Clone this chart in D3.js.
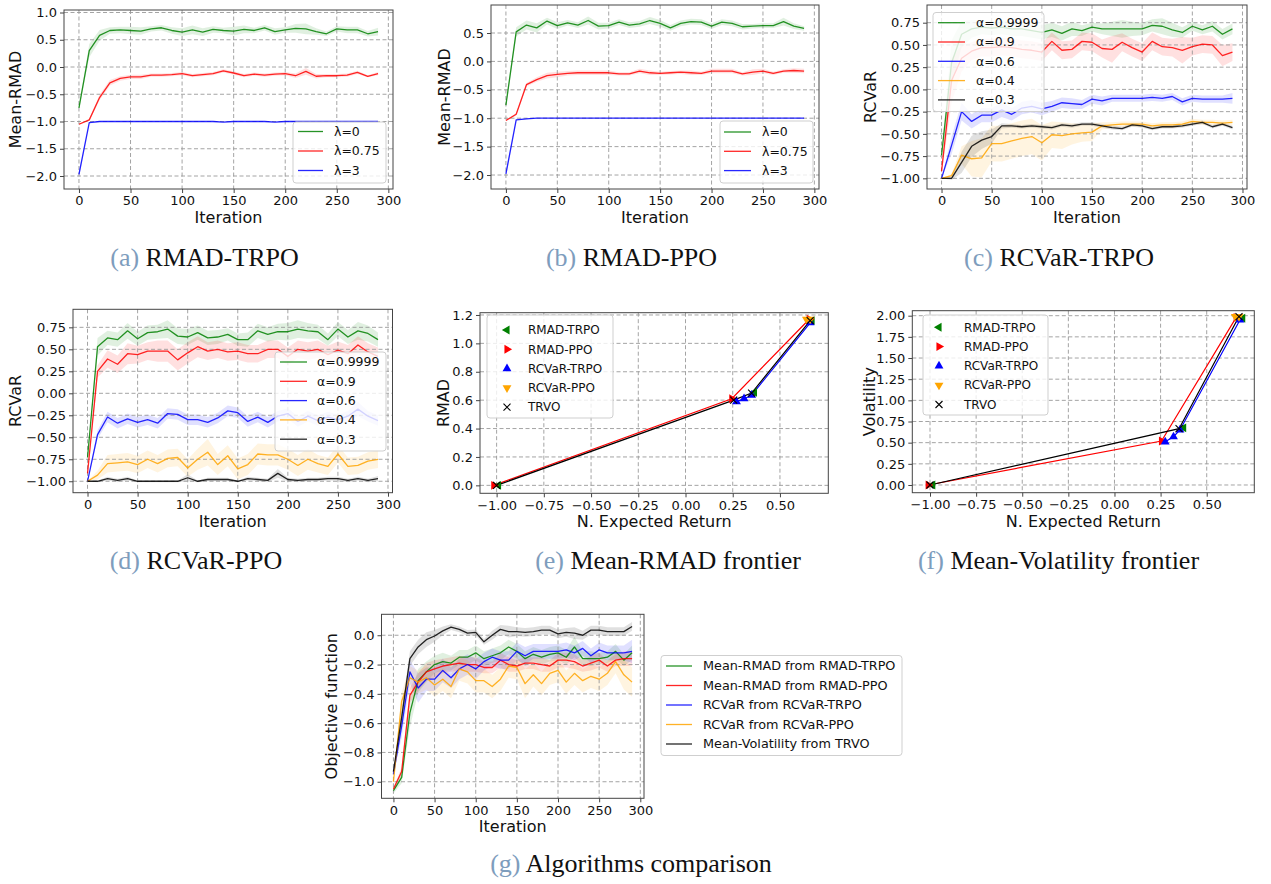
<!DOCTYPE html>
<html><head><meta charset="utf-8">
<script src="https://cdn.jsdelivr.net/npm/d3@7/dist/d3.min.js"></script>
<style>body{margin:0;background:#fff}svg{display:block}</style>
</head><body>
<svg id="chart" width="1271" height="884"></svg>
<script>
// ---------------- DATA ----------------
const iterations = [0,10,20,30,40,50,60,70,80,90,100,110,120,130,140,150,160,170,180,190,200,210,220,230,240,250,260,270,280,290];
const iterTicks = [0,50,100,150,200,250,300];

// (a) RMAD-TRPO
const aLam0   = [-0.75,0.30,0.58,0.67,0.68,0.67,0.66,0.70,0.72,0.67,0.64,0.68,0.64,0.69,0.67,0.66,0.69,0.67,0.72,0.65,0.68,0.71,0.70,0.65,0.61,0.70,0.68,0.68,0.61,0.65];
const aLam0Sd = [0.03,0.12,0.10,0.06,0.06,0.07,0.07,0.05,0.05,0.06,0.07,0.08,0.07,0.06,0.05,0.08,0.07,0.05,0.05,0.06,0.05,0.08,0.10,0.06,0.04,0.05,0.06,0.06,0.05,0.07];
const aLam075   = [-1.05,-0.97,-0.56,-0.29,-0.21,-0.18,-0.18,-0.15,-0.15,-0.14,-0.12,-0.16,-0.14,-0.12,-0.07,-0.11,-0.16,-0.13,-0.15,-0.13,-0.12,-0.16,-0.08,-0.17,-0.16,-0.16,-0.15,-0.10,-0.17,-0.12];
const aLam075Sd = [0.01,0.02,0.05,0.05,0.04,0.04,0.04,0.03,0.03,0.03,0.03,0.03,0.03,0.03,0.03,0.03,0.03,0.03,0.03,0.03,0.03,0.04,0.06,0.04,0.03,0.03,0.03,0.03,0.02,0.03];
const aLam3   = [-1.97,-1.02,-1.00,-1.00,-1.00,-1.00,-1.00,-1.00,-1.00,-1.00,-1.00,-1.00,-1.00,-1.00,-1.01,-1.00,-1.00,-1.00,-1.00,-1.01,-1.00,-1.00,-1.00,-1.00,-1.00,-1.00,-1.00,-1.00,-1.00,-1.00];
const aLam3Sd = [0.06,0.01,0.01,0.005,0.005,0.005,0.005,0.005,0.005,0.005,0.005,0.005,0.005,0.005,0.005,0.005,0.005,0.005,0.005,0.005,0.005,0.005,0.005,0.005,0.005,0.005,0.005,0.005,0.005,0.005];

// (b) RMAD-PPO
const bLam0   = [-0.77,0.52,0.64,0.59,0.71,0.63,0.68,0.64,0.72,0.62,0.63,0.69,0.64,0.66,0.72,0.67,0.59,0.67,0.70,0.69,0.62,0.69,0.67,0.61,0.62,0.63,0.63,0.70,0.62,0.58];
const bLam0Sd = [0.03,0.08,0.08,0.08,0.06,0.06,0.05,0.05,0.07,0.06,0.05,0.05,0.05,0.05,0.06,0.06,0.05,0.05,0.05,0.05,0.05,0.05,0.05,0.05,0.04,0.04,0.04,0.07,0.05,0.04];
const bLam075   = [-1.04,-0.93,-0.41,-0.32,-0.25,-0.23,-0.21,-0.20,-0.20,-0.20,-0.20,-0.22,-0.22,-0.17,-0.20,-0.21,-0.20,-0.19,-0.20,-0.21,-0.17,-0.17,-0.17,-0.22,-0.19,-0.17,-0.21,-0.17,-0.16,-0.17];
const bLam075Sd = [0.01,0.02,0.03,0.04,0.05,0.05,0.04,0.04,0.04,0.04,0.04,0.03,0.03,0.04,0.04,0.03,0.03,0.03,0.04,0.03,0.04,0.04,0.04,0.03,0.05,0.04,0.03,0.03,0.04,0.04];
const bLam3   = [-1.98,-1.03,-1.01,-1.00,-1.00,-1.00,-1.00,-1.00,-1.00,-1.00,-1.00,-1.00,-1.00,-1.00,-1.00,-1.00,-1.00,-1.00,-1.00,-1.00,-1.00,-1.00,-1.00,-1.00,-1.00,-1.00,-1.00,-1.00,-1.00,-1.00];
const bLam3Sd = [0.06,0.01,0.01,0.005,0.005,0.005,0.005,0.005,0.005,0.005,0.005,0.005,0.005,0.005,0.005,0.005,0.005,0.005,0.005,0.005,0.005,0.005,0.005,0.005,0.005,0.005,0.005,0.005,0.005,0.005];

// (c) RCVaR-TRPO
const cA9999   = [-0.74,0.30,0.62,0.68,0.70,0.69,0.70,0.68,0.68,0.66,0.64,0.67,0.63,0.68,0.66,0.70,0.68,0.68,0.68,0.68,0.68,0.72,0.71,0.67,0.64,0.71,0.67,0.71,0.62,0.68];
const cA9999Sd = [0.03,0.25,0.15,0.10,0.08,0.08,0.08,0.08,0.08,0.08,0.08,0.08,0.08,0.08,0.06,0.05,0.06,0.08,0.10,0.08,0.07,0.07,0.09,0.08,0.06,0.05,0.05,0.06,0.06,0.06];
const cA09   = [-0.92,0.10,0.35,0.43,0.47,0.47,0.48,0.47,0.45,0.44,0.42,0.54,0.44,0.45,0.54,0.53,0.46,0.45,0.53,0.47,0.42,0.54,0.48,0.47,0.44,0.48,0.51,0.50,0.38,0.42];
const cA09Sd = [0.05,0.25,0.15,0.10,0.10,0.10,0.10,0.10,0.10,0.10,0.10,0.10,0.10,0.10,0.10,0.10,0.10,0.15,0.10,0.10,0.10,0.10,0.10,0.10,0.15,0.10,0.10,0.10,0.12,0.10];
const cA06   = [-1.00,-0.63,-0.25,-0.36,-0.29,-0.29,-0.23,-0.28,-0.21,-0.19,-0.22,-0.19,-0.15,-0.16,-0.17,-0.11,-0.13,-0.10,-0.10,-0.10,-0.10,-0.09,-0.10,-0.08,-0.14,-0.10,-0.11,-0.11,-0.11,-0.10];
const cA06Sd = [0.00,0.10,0.10,0.08,0.08,0.08,0.08,0.07,0.07,0.07,0.07,0.06,0.06,0.06,0.05,0.05,0.05,0.04,0.04,0.04,0.04,0.04,0.04,0.04,0.04,0.04,0.04,0.04,0.04,0.06];
const cA04   = [-1.00,-0.97,-0.74,-0.78,-0.77,-0.61,-0.61,-0.58,-0.55,-0.53,-0.60,-0.51,-0.52,-0.50,-0.49,-0.48,-0.41,-0.40,-0.39,-0.39,-0.39,-0.41,-0.40,-0.40,-0.39,-0.36,-0.37,-0.37,-0.38,-0.37];
const cA04Sd = [0.00,0.02,0.10,0.20,0.22,0.20,0.20,0.20,0.20,0.20,0.20,0.15,0.15,0.12,0.10,0.10,0.04,0.03,0.03,0.03,0.03,0.03,0.03,0.03,0.03,0.03,0.03,0.03,0.03,0.03];
const cA03   = [-1.00,-1.00,-0.82,-0.64,-0.57,-0.53,-0.41,-0.41,-0.42,-0.41,-0.42,-0.43,-0.40,-0.41,-0.39,-0.39,-0.41,-0.43,-0.44,-0.40,-0.41,-0.44,-0.42,-0.42,-0.41,-0.39,-0.37,-0.42,-0.39,-0.43];
const cA03Sd = [0.00,0.02,0.12,0.12,0.10,0.08,0.03,0.02,0.02,0.02,0.02,0.02,0.02,0.02,0.02,0.02,0.02,0.02,0.02,0.02,0.02,0.02,0.02,0.02,0.02,0.02,0.02,0.02,0.02,0.02];

// (d) RCVaR-PPO
const dA9999   = [-0.73,0.53,0.63,0.61,0.71,0.62,0.69,0.70,0.73,0.65,0.64,0.69,0.63,0.64,0.67,0.61,0.61,0.71,0.67,0.70,0.70,0.73,0.71,0.70,0.61,0.73,0.64,0.71,0.68,0.61];
const dA9999Sd = [0.03,0.10,0.08,0.08,0.09,0.08,0.08,0.08,0.10,0.09,0.09,0.08,0.08,0.08,0.07,0.07,0.08,0.08,0.08,0.09,0.10,0.10,0.09,0.08,0.07,0.08,0.08,0.10,0.09,0.08];
const dA09   = [-0.91,0.25,0.39,0.33,0.45,0.44,0.48,0.48,0.48,0.38,0.46,0.53,0.48,0.50,0.47,0.48,0.45,0.45,0.50,0.50,0.42,0.50,0.48,0.50,0.44,0.49,0.45,0.55,0.47,0.42];
const dA09Sd = [0.03,0.07,0.10,0.10,0.12,0.10,0.10,0.12,0.12,0.12,0.12,0.12,0.10,0.10,0.10,0.10,0.10,0.10,0.10,0.10,0.10,0.10,0.10,0.10,0.10,0.10,0.10,0.10,0.10,0.10];
const dA06   = [-1.00,-0.47,-0.27,-0.34,-0.29,-0.33,-0.30,-0.34,-0.23,-0.24,-0.30,-0.30,-0.33,-0.28,-0.20,-0.22,-0.32,-0.27,-0.33,-0.26,-0.23,-0.32,-0.26,-0.31,-0.27,-0.30,-0.26,-0.18,-0.26,-0.31];
const dA06Sd = [0.00,0.05,0.06,0.06,0.06,0.06,0.06,0.06,0.06,0.06,0.06,0.06,0.06,0.06,0.06,0.06,0.06,0.06,0.06,0.06,0.06,0.06,0.06,0.06,0.06,0.06,0.06,0.08,0.06,0.06];
const dA04   = [-1.00,-0.93,-0.80,-0.79,-0.78,-0.81,-0.75,-0.80,-0.74,-0.73,-0.85,-0.75,-0.67,-0.81,-0.71,-0.86,-0.81,-0.69,-0.70,-0.70,-0.75,-0.82,-0.75,-0.80,-0.83,-0.69,-0.83,-0.82,-0.77,-0.75];
const dA04Sd = [0.00,0.05,0.10,0.10,0.10,0.10,0.10,0.10,0.10,0.10,0.10,0.12,0.15,0.12,0.12,0.12,0.12,0.12,0.12,0.12,0.12,0.12,0.12,0.10,0.10,0.10,0.10,0.10,0.10,0.10];
const dA03   = [-1.00,-1.00,-0.97,-0.99,-0.97,-1.00,-1.00,-1.00,-1.00,-1.00,-0.96,-1.00,-0.98,-0.98,-0.98,-1.00,-0.97,-0.98,-0.99,-0.91,-0.98,-0.99,-0.98,-0.98,-0.97,-0.97,-0.99,-0.97,-0.99,-0.97];
const dA03Sd = [0.00,0.01,0.02,0.02,0.02,0.01,0.01,0.01,0.01,0.01,0.04,0.01,0.02,0.02,0.02,0.01,0.02,0.02,0.02,0.05,0.02,0.02,0.02,0.02,0.02,0.02,0.02,0.02,0.02,0.03];

// (e) Mean-RMAD frontier  (x = N. expected return, y = RMAD)
const eRmadTrpoX = [-0.99,0.365,0.67],  eRmadTrpoY = [0.0,0.655,1.16];
const eRmadPpoX  = [-1.015,0.245,0.655], eRmadPpoY  = [0.0,0.61,1.17];
const eRcvarTrpoX = [0.27,0.31,0.35,0.66], eRcvarTrpoY = [0.59,0.61,0.635,1.145];
const eRcvarPpoX  = [0.64,0.66], eRcvarPpoY = [1.17,1.17];
const eTrvoX = [-1.0,0.255,0.35,0.66], eTrvoY = [0.0,0.60,0.65,1.16];

// (f) Mean-Volatility frontier (x = N. expected return, y = volatility)
const fRmadTrpoX = [-0.985,0.375,0.695], fRmadTrpoY = [0.0,0.675,1.97];
const fRmadPpoX  = [-1.01,0.255,0.66],   fRmadPpoY  = [0.0,0.52,1.98];
const fRcvarTrpoX = [0.275,0.32,0.355,0.68], fRcvarTrpoY = [0.51,0.57,0.65,1.95];
const fRcvarPpoX  = [0.655,0.675], fRcvarPpoY = [1.99,1.99];
const fTrvoX = [-1.0,0.35,0.675], fTrvoY = [0.0,0.665,1.99];

// (g) Algorithms comparison
const gRmadTrpo   = [-1.06,-0.97,-0.53,-0.31,-0.25,-0.20,-0.18,-0.19,-0.15,-0.15,-0.12,-0.16,-0.14,-0.12,-0.08,-0.11,-0.16,-0.13,-0.15,-0.13,-0.12,-0.15,-0.08,-0.16,-0.16,-0.16,-0.15,-0.11,-0.17,-0.12];
const gRmadTrpoSd = [0.02,0.04,0.10,0.08,0.07,0.06,0.06,0.05,0.05,0.05,0.05,0.05,0.05,0.05,0.05,0.05,0.05,0.05,0.05,0.05,0.05,0.05,0.07,0.05,0.05,0.04,0.04,0.05,0.04,0.05];
const gRmadPpo   = [-1.05,-0.93,-0.41,-0.32,-0.25,-0.23,-0.21,-0.20,-0.19,-0.20,-0.20,-0.22,-0.22,-0.17,-0.20,-0.21,-0.19,-0.19,-0.20,-0.21,-0.17,-0.17,-0.18,-0.21,-0.19,-0.17,-0.21,-0.17,-0.16,-0.16];
const gRmadPpoSd = [0.01,0.03,0.05,0.06,0.06,0.06,0.05,0.05,0.05,0.05,0.05,0.04,0.04,0.05,0.05,0.04,0.04,0.04,0.05,0.04,0.05,0.05,0.05,0.04,0.05,0.05,0.04,0.04,0.05,0.05];
const gRcvarTrpo   = [-0.95,-0.62,-0.25,-0.36,-0.30,-0.30,-0.24,-0.29,-0.23,-0.20,-0.23,-0.18,-0.15,-0.17,-0.17,-0.11,-0.14,-0.11,-0.11,-0.11,-0.11,-0.10,-0.12,-0.09,-0.14,-0.10,-0.12,-0.12,-0.12,-0.11];
const gRcvarTrpoSd = [0.00,0.08,0.08,0.10,0.08,0.08,0.08,0.07,0.07,0.07,0.07,0.06,0.06,0.06,0.06,0.06,0.06,0.05,0.05,0.05,0.05,0.05,0.05,0.05,0.05,0.05,0.05,0.05,0.05,0.08];
const gRcvarPpo   = [-1.00,-0.45,-0.29,-0.32,-0.29,-0.34,-0.30,-0.35,-0.23,-0.25,-0.31,-0.31,-0.35,-0.30,-0.21,-0.22,-0.33,-0.27,-0.33,-0.26,-0.24,-0.32,-0.26,-0.31,-0.28,-0.30,-0.26,-0.18,-0.27,-0.32];
const gRcvarPpoSd = [0.00,0.06,0.08,0.08,0.08,0.08,0.08,0.08,0.08,0.08,0.08,0.08,0.08,0.08,0.08,0.08,0.10,0.08,0.08,0.08,0.08,0.08,0.08,0.08,0.08,0.08,0.08,0.08,0.10,0.10];
const gTrvo   = [-0.93,-0.56,-0.16,-0.08,-0.03,-0.005,0.03,0.055,0.04,0.015,0.02,-0.045,0.0,0.04,0.025,0.025,0.02,0.025,0.035,0.035,0.01,0.02,0.015,0.0,0.035,0.035,0.025,0.025,0.025,0.06];
const gTrvoSd = [0.01,0.05,0.05,0.05,0.05,0.04,0.03,0.02,0.02,0.02,0.02,0.02,0.03,0.03,0.04,0.03,0.03,0.03,0.03,0.03,0.03,0.03,0.04,0.03,0.03,0.03,0.03,0.03,0.03,0.03];

// ---------------- DRAWING ----------------
const svg = d3.select("#chart");
const SANS = "DejaVu Sans";
const SERIF = "Liberation Serif";
const C = {green:"#008000", red:"#ff0000", blue:"#0000ff", orange:"#ffa500", black:"#000000"};
let clipCount = 0;

function drawGrid(g, x, y, box, xTicks, yTicks) {
  const grid = g.append("g");
  xTicks.forEach(t => { const px = x(t); if (px >= box.left - 0.5 && px <= box.right + 0.5)
    grid.append("line").attr("x1",px).attr("x2",px).attr("y1",box.top).attr("y2",box.bottom); });
  yTicks.forEach(t => { const py = y(t); if (py >= box.top - 0.5 && py <= box.bottom + 0.5)
    grid.append("line").attr("x1",box.left).attr("x2",box.right).attr("y1",py).attr("y2",py); });
  grid.selectAll("line").attr("stroke","#9a9a9a").attr("stroke-width",0.9).attr("stroke-dasharray","4,2.5");
}

function finishAxes(g, x, y, box, xTicks, yTicks, xFmt, yFmt, xLabel, yLabel, yLabelX) {
  g.append("rect").attr("x",box.left).attr("y",box.top).attr("width",box.right-box.left).attr("height",box.bottom-box.top)
    .attr("fill","none").attr("stroke","#444").attr("stroke-width",1);
  const xa = g.append("g").attr("transform",`translate(0,${box.bottom})`)
    .call(d3.axisBottom(x).tickValues(xTicks).tickFormat(xFmt).tickSize(4).tickPadding(3));
  const ya = g.append("g").attr("transform",`translate(${box.left},0)`)
    .call(d3.axisLeft(y).tickValues(yTicks).tickFormat(yFmt).tickSize(4).tickPadding(3));
  [xa, ya].forEach(a => {
    a.select(".domain").remove();
    a.selectAll("line").attr("stroke","#444");
    a.selectAll("text").attr("font-family",SANS).attr("font-size","13px").attr("fill","#111");
  });
  g.append("text").attr("x",(box.left+box.right)/2).attr("y",box.bottom+34)
    .attr("text-anchor","middle").attr("font-family",SANS).attr("font-size","16px").attr("fill","#111").text(xLabel);
  g.append("text").attr("transform",`translate(${yLabelX},${(box.top+box.bottom)/2}) rotate(-90)`)
    .attr("dy","0.35em").attr("text-anchor","middle").attr("font-family",SANS).attr("font-size","16px").attr("fill","#111").text(yLabel);
}

function legendBox(g, L) {
  g.append("rect").attr("x",L.x).attr("y",L.y).attr("width",L.w).attr("height",L.h).attr("rx",3)
    .attr("fill","#fff").attr("fill-opacity",0.8).attr("stroke","#cfcfcf").attr("stroke-width",1);
}

function clipFor(box) {
  const id = "clip" + (clipCount++);
  svg.append("clipPath").attr("id",id).append("rect")
    .attr("x",box.left).attr("y",box.top).attr("width",box.right-box.left).attr("height",box.bottom-box.top);
  return `url(#${id})`;
}

function drawTimePanel(cfg) {
  const g = svg.append("g");
  const box = cfg.box;
  const x = d3.scaleLinear().domain([-14.5,304.5]).range([box.left, box.right]);
  const y = d3.scaleLinear().domain(cfg.yDomain).range([box.bottom, box.top]);
  const plot = g.append("g").attr("clip-path", clipFor(box));
  cfg.series.forEach(s => {
    const area = d3.area().x((d,i)=>x(iterations[i])).y0((d,i)=>y(d - s.sd[i])).y1((d,i)=>y(d + s.sd[i]));
    plot.append("path").datum(s.values).attr("d",area).attr("fill",s.color).attr("fill-opacity",0.12).attr("stroke","none");
  });
  drawGrid(g, x, y, box, iterTicks, cfg.yTicks);
  const plot2 = g.append("g").attr("clip-path", clipFor(box));
  cfg.series.forEach(s => {
    const line = d3.line().x((d,i)=>x(iterations[i])).y(d=>y(d));
    plot2.append("path").datum(s.values).attr("d",line).attr("fill","none").attr("stroke",s.color)
      .attr("stroke-opacity",0.85).attr("stroke-width",1.3).attr("stroke-linejoin","round");
  });
  finishAxes(g, x, y, box, iterTicks, cfg.yTicks, d3.format("d"), d3.format(cfg.yFmt), "Iteration", cfg.yLabel, cfg.yLabelX);
  const L = cfg.legend;
  legendBox(g, L);
  cfg.series.forEach((s,i) => {
    const yy = L.row0 + i*L.step;
    g.append("line").attr("x1",L.hx0).attr("x2",L.hx1).attr("y1",yy).attr("y2",yy).attr("stroke",s.color).attr("stroke-opacity",0.85).attr("stroke-width",1.3);
    g.append("text").attr("x",L.tx).attr("y",yy).attr("dy","0.35em").attr("font-family",SANS).attr("font-size",(L.fs||12.5)+"px").attr("fill","#111").text(s.label);
  });
}

function markerPath(shape) {
  if (shape === "x") return "M-3.5,-3.5L3.5,3.5M-3.5,3.5L3.5,-3.5";
  return d3.symbol().type(d3.symbolTriangle).size(34)();
}
function markerRot(shape) { return {"<":-90, ">":90, "^":0, "v":180, "x":0}[shape]; }

function drawMarker(g, px, py, s) {
  const p = g.append("path").attr("d", markerPath(s.shape))
    .attr("transform",`translate(${px},${py}) rotate(${markerRot(s.shape)})`);
  if (s.shape === "x") p.attr("fill","none").attr("stroke",s.color).attr("stroke-width",1.1);
  else p.attr("fill",s.color).attr("stroke","none");
}

function drawFrontierPanel(cfg) {
  const g = svg.append("g");
  const box = cfg.box;
  const x = d3.scaleLinear().domain(cfg.xDomain).range([box.left, box.right]);
  const y = d3.scaleLinear().domain(cfg.yDomain).range([box.bottom, box.top]);
  drawGrid(g, x, y, box, cfg.xTicks, cfg.yTicks);
  const plot = g.append("g").attr("clip-path", clipFor(box));
  cfg.lineOrder.forEach(k => {
    const s = cfg.series[k];
    const pts = s.xs.map((v,i)=>[x(v), y(s.ys[i])]);
    plot.append("path").attr("d", d3.line()(pts)).attr("fill","none").attr("stroke",s.color).attr("stroke-width",1.2);
  });
  const mk = g.append("g");
  cfg.series.forEach(s => s.xs.forEach((v,i) => drawMarker(mk, x(v), y(s.ys[i]), s)));
  finishAxes(g, x, y, box, cfg.xTicks, cfg.yTicks, d3.format(".2f"), d3.format(cfg.yFmt), "N. Expected Return", cfg.yLabel, cfg.yLabelX);
  const L = cfg.legend;
  legendBox(g, L);
  cfg.series.forEach((s,i) => {
    const yy = L.row0 + i*L.step;
    drawMarker(g, L.mx, yy, s);
    g.append("text").attr("x",L.tx).attr("y",yy).attr("dy","0.35em").attr("font-family",SANS).attr("font-size","12px").attr("fill","#111").text(s.label);
  });
}

function caption(cx, by, letter, title) {
  const t = svg.append("text").attr("x",cx).attr("y",by).attr("text-anchor","middle")
    .attr("font-family",SERIF).attr("font-size","26px").attr("fill","#111");
  t.append("tspan").attr("fill","#7e9dbd").text(letter);
  t.append("tspan").text(" " + title);
}

// (a)
drawTimePanel({
  box:{left:64,right:393,top:10,bottom:189}, yDomain:[-2.2385,1.046], yTicks:[1.0,0.5,0.0,-0.5,-1.0,-1.5,-2.0], yFmt:".1f",
  yLabel:"Mean-RMAD", yLabelX:15.5,
  series:[{values:aLam0,sd:aLam0Sd,color:C.green,label:"λ=0"},
          {values:aLam075,sd:aLam075Sd,color:C.red,label:"λ=0.75"},
          {values:aLam3,sd:aLam3Sd,color:C.blue,label:"λ=3"}],
  legend:{x:293,y:122,w:93,h:61,row0:131.5,step:19.5,hx0:298,hx1:323,tx:334}
});
// (b)
drawTimePanel({
  box:{left:491,right:819,top:5,bottom:189}, yDomain:[-2.246,0.993], yTicks:[0.5,0.0,-0.5,-1.0,-1.5,-2.0], yFmt:".1f",
  yLabel:"Mean-RMAD", yLabelX:444.5,
  series:[{values:bLam0,sd:bLam0Sd,color:C.green,label:"λ=0"},
          {values:bLam075,sd:bLam075Sd,color:C.red,label:"λ=0.75"},
          {values:bLam3,sd:bLam3Sd,color:C.blue,label:"λ=3"}],
  legend:{x:720,y:121,w:93,h:62,row0:132,step:19.3,hx0:724,hx1:751,tx:762}
});
// (c)
drawTimePanel({
  box:{left:927,right:1247,top:5,bottom:189}, yDomain:[-1.12,0.949], yTicks:[0.75,0.5,0.25,0.0,-0.25,-0.5,-0.75,-1.0], yFmt:".2f",
  yLabel:"RCVaR", yLabelX:870,
  series:[{values:cA9999,sd:cA9999Sd,color:C.green,label:"α=0.9999"},
          {values:cA09,sd:cA09Sd,color:C.red,label:"α=0.9"},
          {values:cA06,sd:cA06Sd,color:C.blue,label:"α=0.6"},
          {values:cA04,sd:cA04Sd,color:C.orange,label:"α=0.4"},
          {values:cA03,sd:cA03Sd,color:C.black,label:"α=0.3"}],
  legend:{x:933,y:12.5,w:111,h:99,row0:22.7,step:19.3,hx0:938,hx1:965,tx:976}
});
// (d)
drawTimePanel({
  box:{left:73,right:392.5,top:309.3,bottom:492.7}, yDomain:[-1.13,0.955], yTicks:[0.75,0.5,0.25,0.0,-0.25,-0.5,-0.75,-1.0], yFmt:".2f",
  yLabel:"RCVaR", yLabelX:15,
  series:[{values:dA9999,sd:dA9999Sd,color:C.green,label:"α=0.9999"},
          {values:dA09,sd:dA09Sd,color:C.red,label:"α=0.9"},
          {values:dA06,sd:dA06Sd,color:C.blue,label:"α=0.6"},
          {values:dA04,sd:dA04Sd,color:C.orange,label:"α=0.4"},
          {values:dA03,sd:dA03Sd,color:C.black,label:"α=0.3"}],
  legend:{x:275,y:352,w:111,h:99,row0:362,step:19.3,hx0:280,hx1:307,tx:317}
});
// (e)
drawFrontierPanel({
  box:{left:480,right:828.3,top:312.7,bottom:493.3}, xDomain:[-1.088,0.756], yDomain:[-0.056,1.216],
  xTicks:[-1.0,-0.75,-0.5,-0.25,0.0,0.25,0.5], yTicks:[0.0,0.2,0.4,0.6,0.8,1.0,1.2], yFmt:".1f",
  yLabel:"RMAD", yLabelX:443.5,
  series:[{xs:eRmadTrpoX,ys:eRmadTrpoY,color:C.green,shape:"<",label:"RMAD-TRPO"},
          {xs:eRmadPpoX,ys:eRmadPpoY,color:C.red,shape:">",label:"RMAD-PPO"},
          {xs:eRcvarTrpoX,ys:eRcvarTrpoY,color:C.blue,shape:"^",label:"RCVaR-TRPO"},
          {xs:eRcvarPpoX,ys:eRcvarPpoY,color:C.orange,shape:"v",label:"RCVaR-PPO"},
          {xs:eTrvoX,ys:eTrvoY,color:C.black,shape:"x",label:"TRVO"}],
  lineOrder:[3,2,1,4],
  legend:{x:487,y:315,w:126,h:103,row0:330,step:19.3,mx:507,tx:528}
});
// (f)
drawFrontierPanel({
  box:{left:912.3,right:1254.3,top:310.7,bottom:492.7}, xDomain:[-1.096,0.758], yDomain:[-0.091,2.059],
  xTicks:[-1.0,-0.75,-0.5,-0.25,0.0,0.25,0.5], yTicks:[0.0,0.25,0.5,0.75,1.0,1.25,1.5,1.75,2.0], yFmt:".2f",
  yLabel:"Volatility", yLabelX:869.5,
  series:[{xs:fRmadTrpoX,ys:fRmadTrpoY,color:C.green,shape:"<",label:"RMAD-TRPO"},
          {xs:fRmadPpoX,ys:fRmadPpoY,color:C.red,shape:">",label:"RMAD-PPO"},
          {xs:fRcvarTrpoX,ys:fRcvarTrpoY,color:C.blue,shape:"^",label:"RCVaR-TRPO"},
          {xs:fRcvarPpoX,ys:fRcvarPpoY,color:C.orange,shape:"v",label:"RCVaR-PPO"},
          {xs:fTrvoX,ys:fTrvoY,color:C.black,shape:"x",label:"TRVO"}],
  lineOrder:[3,2,1,4],
  legend:{x:923,y:315,w:125,h:100,row0:327.3,step:19.3,mx:939,tx:964}
});
// (g)
drawTimePanel({
  box:{left:381.5,right:644,top:614.3,bottom:798.3}, yDomain:[-1.113,0.143], yTicks:[0.0,-0.2,-0.4,-0.6,-0.8,-1.0], yFmt:".1f",
  yLabel:"Objective function", yLabelX:331,
  series:[{values:gRmadTrpo,sd:gRmadTrpoSd,color:C.green,label:"Mean-RMAD from RMAD-TRPO"},
          {values:gRmadPpo,sd:gRmadPpoSd,color:C.red,label:"Mean-RMAD from RMAD-PPO"},
          {values:gRcvarTrpo,sd:gRcvarTrpoSd,color:C.blue,label:"RCVaR from RCVaR-TRPO"},
          {values:gRcvarPpo,sd:gRcvarPpoSd,color:C.orange,label:"RCVaR from RCVaR-PPO"},
          {values:gTrvo,sd:gTrvoSd,color:C.black,label:"Mean-Volatility from TRVO"}],
  legend:{x:661,y:655.5,w:241,h:100,row0:666,step:19.5,hx0:666,hx1:692,tx:703,fs:12.8}
});

caption(204.5, 266, "(a)", "RMAD-TRPO");
caption(631.5, 266, "(b)", "RMAD-PPO");
caption(1059, 266, "(c)", "RCVaR-TRPO");
caption(196, 569, "(d)", "RCVaR-PPO");
caption(668, 569, "(e)", "Mean-RMAD frontier");
caption(1058.5, 569, "(f)", "Mean-Volatility frontier");
caption(631, 872, "(g)", "Algorithms comparison");
</script>
</body></html>
